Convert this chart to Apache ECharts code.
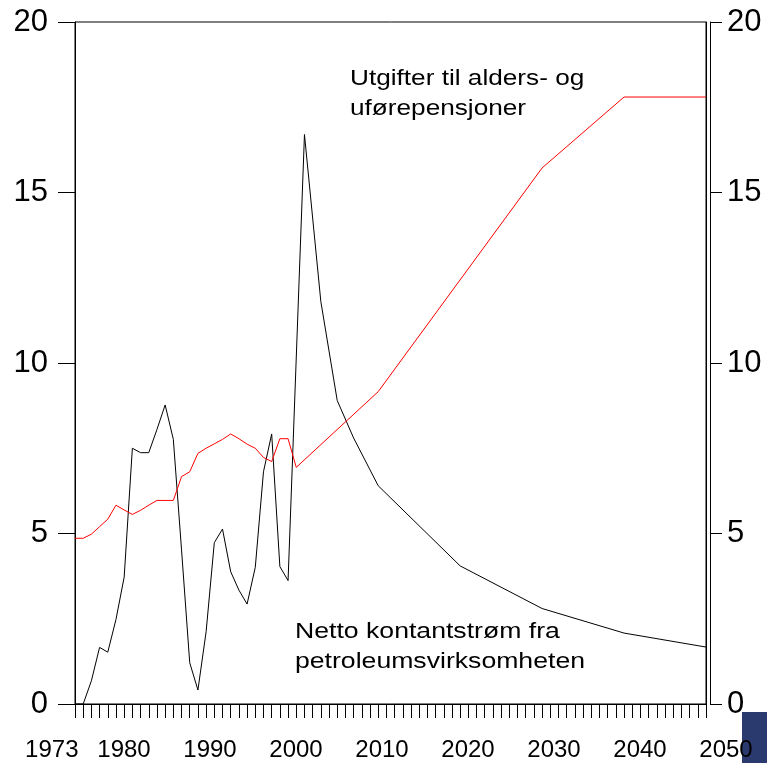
<!DOCTYPE html>
<html>
<head>
<meta charset="utf-8">
<script src="https://cdn.jsdelivr.net/npm/echarts@6/dist/echarts.min.js"></script>
<style>
  html, body { margin: 0; padding: 0; background: #fff; }
  #chart { width: 767px; height: 763px; }
</style>
</head>
<body>
<div id="chart"></div>
<script>
// Netto kontantstrøm fra petroleumsvirksomheten (svart)
const cashYears = [1973, 1974, 1975, 1976, 1977, 1978, 1979, 1980, 1981, 1982, 1983, 1984, 1985,
  1986, 1987, 1988, 1989, 1990, 1991, 1992, 1993, 1994, 1995, 1996, 1997, 1998, 1999,
  2001, 2003, 2005, 2007, 2010, 2020, 2030, 2040, 2050];
const cashValues = [0, 0, 0.68, 1.66, 1.52, 2.48, 3.72, 7.5, 7.37, 7.37, 8.05, 8.77, 7.76,
  4.52, 1.21, 0.41, 2.12, 4.73, 5.13, 3.88, 3.34, 2.93, 4.01, 6.81, 7.92, 4.03, 3.62,
  16.7, 11.8, 8.9, 7.8, 6.4, 4.05, 2.8, 2.08, 1.67];

// Utgifter til alders- og uførepensjoner (rød)
const pensionYears = [1973, 1974, 1975, 1976, 1977, 1978, 1979, 1980, 1981, 1982, 1983, 1984, 1985,
  1986, 1987, 1988, 1989, 1990, 1991, 1992, 1993, 1994, 1995, 1996, 1997, 1998, 1999,
  2000, 2010, 2030, 2040, 2050];
const pensionValues = [4.86, 4.86, 4.98, 5.2, 5.42, 5.83, 5.69, 5.56, 5.68, 5.83, 5.97, 5.97, 5.97,
  6.67, 6.81, 7.35, 7.5, 7.63, 7.76, 7.92, 7.78, 7.62, 7.5, 7.23, 7.11, 7.78, 7.78,
  6.94, 9.16, 15.72, 17.8, 17.8];

// aksetekster
const yearLabels = [1973, 1980, 1990, 2000, 2010, 2020, 2030, 2040, 2050];
const yTicks = [0, 5, 10, 15, 20];

const font = "'Liberation Sans', Arial, sans-serif";
const myChart = echarts.init(document.getElementById("chart"));

const pairs = (xs, ys) => xs.map((x, i) => [x, ys[i]]);

const options = {
  animation: false,
  backgroundColor: "#fff",
  grid: [
    // selve plottet
    { left: 75, right: 61, top: 22, bottom: 59, show: true, borderColor: "#000", borderWidth: 1 },
    // bare for årstallene under aksen
    { left: 38, right: 41, top: 22, bottom: 59 },
  ],
  xAxis: [
    {
      type: "value", gridIndex: 0, min: 1973, max: 2050, interval: 1,
      axisLine: { show: true, lineStyle: { color: "#000", width: 1 } },
      axisTick: { show: true, length: 14, lineStyle: { color: "#000" } },
      axisLabel: { show: false },
      splitLine: { show: false },
    },
    {
      // dobbel linje nederst
      type: "value", gridIndex: 0, min: 1973, max: 2050, position: "bottom", offset: 4,
      axisLine: { show: true, lineStyle: { color: "#000", width: 1 } },
      axisTick: { show: false }, axisLabel: { show: false }, splitLine: { show: false },
    },
    {
      type: "value", gridIndex: 1, min: 1970, max: 2050, interval: 1,
      axisLine: { show: false }, axisTick: { show: false }, splitLine: { show: false },
      axisLabel: {
        margin: 34,
        color: "#000",
        fontSize: 24,
        fontFamily: font,
        formatter: (v) => {
          if (!yearLabels.includes(v)) return "";
          return v === yearLabels[0] ? "{first|" + v + "}" : String(v);
        },
        rich: { first: { fontSize: 24, fontFamily: font, color: "#000", padding: [0, 24, 0, 0] } },
      },
    },
  ],
  yAxis: [
    {
      type: "value", gridIndex: 0, position: "left", min: yTicks[0], max: yTicks[yTicks.length - 1], interval: 5,
      axisLine: { show: true, lineStyle: { color: "#000" } },
      axisTick: { show: true, length: 17, lineStyle: { color: "#000" } },
      axisLabel: { margin: 27, color: "#000", fontSize: 31, fontFamily: font },
      splitLine: { show: false },
    },
    {
      type: "value", gridIndex: 0, position: "right", offset: 4, min: 0, max: 20, interval: 5,
      axisLine: { show: true, lineStyle: { color: "#000" } },
      axisTick: { show: true, length: 12, lineStyle: { color: "#000" } },
      axisLabel: { margin: 17, color: "#000", fontSize: 31, fontFamily: font },
      splitLine: { show: false },
    },
    {
      type: "value", gridIndex: 0, position: "right", offset: 0, min: 0, max: 20,
      axisLine: { show: true, lineStyle: { color: "#000" } },
      axisTick: { show: false }, axisLabel: { show: false }, splitLine: { show: false },
    },
    { type: "value", gridIndex: 1, min: 0, max: 20, show: false },
  ],
  series: [
    {
      name: "Netto kontantstrøm fra petroleumsvirksomheten",
      type: "line", xAxisIndex: 0, yAxisIndex: 0,
      data: pairs(cashYears, cashValues),
      showSymbol: false,
      lineStyle: { color: "#000", width: 1 },
    },
    {
      name: "Utgifter til alders- og uførepensjoner",
      type: "line", xAxisIndex: 0, yAxisIndex: 0,
      data: pairs(pensionYears, pensionValues),
      showSymbol: false,
      lineStyle: { color: "#ff0000", width: 1 },
    },
  ],
  graphic: [
    {
      type: "text", left: 350, top: 64, scaleX: 1.19,
      style: { text: "Utgifter til alders- og\nuførepensjoner", fontSize: 22, lineHeight: 30, fontFamily: font, fill: "#000" },
    },
    {
      type: "text", left: 295, top: 617, scaleX: 1.21,
      style: { text: "Netto kontantstrøm fra\npetroleumsvirksomheten", fontSize: 22, lineHeight: 30, fontFamily: font, fill: "#000" },
    },
    {
      type: "rect", left: 742, top: 712,
      shape: { width: 25, height: 51 },
      style: { fill: "#2b3a6e" },
    },
  ],
};

myChart.setOption(options);
</script>
</body>
</html>
